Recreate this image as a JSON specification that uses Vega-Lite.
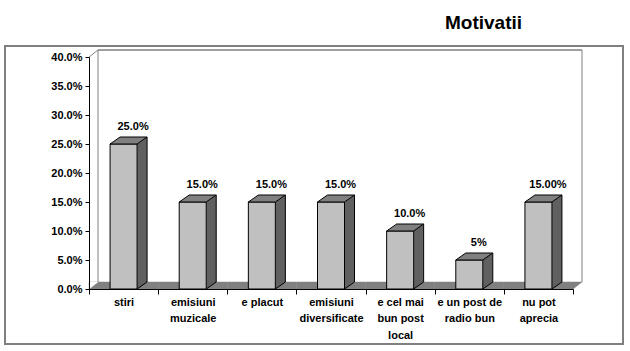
{
  "$schema": "https://vega.github.io/schema/vega-lite/v6.json",
  "width": 618,
  "height": 298,
  "autosize": "none",
  "padding": {"left": 5, "top": 46, "right": 7, "bottom": 7},
  "background": "white",
  "config": {"view": {"stroke": "#808080", "strokeWidth": 1}, "font": "Liberation Sans"},
  "title": {"text": "Motivatii", "fontSize": 19, "fontWeight": "bold", "font": "Liberation Sans", "color": "black", "anchor": "middle", "dx": 169.5, "offset": -3, "baseline": "alphabetic", "frame": "group"},
  "datasets": {
    "main": [
      {"cat": "stiri", "v": 0.25, "label": "25.0%"},
      {"cat": "emisiuni muzicale", "v": 0.15, "label": "15.0%"},
      {"cat": "e placut", "v": 0.15, "label": "15.0%"},
      {"cat": "emisiuni diversificate", "v": 0.15, "label": "15.0%"},
      {"cat": "e cel mai bun post local", "v": 0.10, "label": "10.0%"},
      {"cat": "e un post de radio bun", "v": 0.05, "label": "5%"},
      {"cat": "nu pot aprecia", "v": 0.15, "label": "15.00%"}
    ]
  },
  "data": {"name": "main"},
  "encoding": {
    "x": {
      "field": "cat", "type": "nominal",
      "scale": {"type": "band", "domain": ["stiri", "emisiuni muzicale", "e placut", "emisiuni diversificate", "e cel mai bun post local", "e un post de radio bun", "nu pot aprecia"], "range": [84, 568], "paddingInner": 0, "paddingOuter": 0},
      "axis": {
        "title": null, "offset": -55, "zindex": 1, "tickBand": "extent", "tickSize": 5, "labelAngle": 0, "labelOverlap": false, "labelLimit": 0,
        "domainColor": "black", "tickColor": "black", "labelColor": "black", "labelFont": "Liberation Sans", "labelFontSize": 11, "labelFontWeight": "bold",
        "labelPadding": 2, "labelLineHeight": 16.5, "labelBaseline": "top",
        "labelExpr": "datum.value == 'emisiuni muzicale' ? ['emisiuni','muzicale'] : datum.value == 'emisiuni diversificate' ? ['emisiuni','diversificate'] : datum.value == 'e cel mai bun post local' ? ['e cel mai','bun post','local'] : datum.value == 'e un post de radio bun' ? ['e un post de','radio bun'] : datum.value == 'nu pot aprecia' ? ['nu pot','aprecia'] : datum.label"
      }
    },
    "y": {
      "field": "v", "type": "quantitative",
      "scale": {"domain": [0, 0.4], "range": [243, 11], "nice": false, "zero": true},
      "axis": {
        "title": null, "offset": -84, "zindex": 1, "grid": false, "values": [0, 0.05, 0.1, 0.15, 0.2, 0.25, 0.3, 0.35, 0.4], "format": ".1%",
        "tickSize": 4, "domainColor": "black", "tickColor": "black", "labelColor": "black", "labelFont": "Liberation Sans", "labelFontSize": 11, "labelFontWeight": "bold", "labelPadding": 3
      }
    }
  },
  "layer": [
    {
      "transform": [{"filter": "datum.cat == 'stiri'"}],
      "mark": {"type": "rect", "fill": "white", "fillOpacity": 0, "stroke": "#808080", "strokeWidth": 2},
      "encoding": {"x": {"value": 0}, "x2": {"value": "width"}, "y": {"value": 0}, "y2": {"value": "height"}}
    },
    {
      "mark": {"type": "bar", "fill": "#808080", "stroke": "#808080", "strokeWidth": 0.5, "yOffset": -7, "y2Offset": 0, "width": {"band": 1}},
      "encoding": {"y": {"datum": 0}, "y2": {"datum": 0}}
    },
    {
      "transform": [{"filter": "datum.cat == 'nu pot aprecia'"}],
      "mark": {"type": "point", "shape": "M0,0 L9,-7 L0,-7 Z", "size": 4, "filled": true, "fill": "#808080", "stroke": "#808080", "strokeWidth": 0.5, "opacity": 1},
      "encoding": {"x": {"field": "cat", "type": "nominal", "bandPosition": 1}, "y": {"datum": 0}}
    },
    {
      "transform": [{"filter": "datum.cat == 'stiri'"}],
      "mark": {"type": "point", "shape": "M0,0 L0,-7 L9,-7 Z", "size": 4, "filled": true, "fill": "white", "stroke": "white", "strokeWidth": 0.5, "opacity": 1},
      "encoding": {"x": {"field": "cat", "type": "nominal", "bandPosition": 0}, "y": {"datum": 0}}
    },
    {
      "transform": [{"filter": "datum.cat == 'stiri'"}],
      "mark": {"type": "rule", "stroke": "#808080", "strokeWidth": 1, "xOffset": 9, "yOffset": -7, "y2Offset": -7},
      "encoding": {"x": {"field": "cat", "type": "nominal", "bandPosition": 0}, "y": {"datum": 0}, "y2": {"datum": 0.4}}
    },
    {
      "transform": [{"filter": "datum.cat == 'nu pot aprecia'"}],
      "mark": {"type": "rule", "stroke": "#808080", "strokeWidth": 1, "xOffset": 9, "yOffset": -7, "y2Offset": -7},
      "encoding": {"x": {"field": "cat", "type": "nominal", "bandPosition": 1}, "y": {"datum": 0}, "y2": {"datum": 0.4}}
    },
    {
      "mark": {"type": "bar", "fillOpacity": 0, "stroke": "#808080", "strokeWidth": 1, "width": {"band": 1}, "xOffset": 9, "x2Offset": 9, "yOffset": -7, "y2Offset": -7},
      "encoding": {"y": {"datum": 0.4}, "y2": {"datum": 0.4}}
    },
    {
      "transform": [{"filter": "datum.cat == 'stiri'"}],
      "mark": {"type": "point", "shape": "M0,0 L9,-7", "size": 4, "filled": false, "stroke": "#808080", "strokeWidth": 1, "opacity": 1},
      "encoding": {"x": {"field": "cat", "type": "nominal", "bandPosition": 0}, "y": {"datum": 0.4}}
    },
    {
      "mark": {"type": "bar", "fill": "#606060", "width": 10, "xOffset": 18.5, "yOffset": -7, "y2Offset": -7}
    },
    {
      "mark": {"type": "point", "shape": "M13.5,0 L13.5,-7 L23.5,-7 Z", "size": 4, "filled": true, "fill": "#606060", "strokeWidth": 0, "opacity": 1},
      "encoding": {"y": {"datum": 0}}
    },
    {
      "mark": {"type": "point", "shape": "M13.5,0 L23.5,-7", "size": 4, "filled": false, "stroke": "black", "strokeWidth": 1, "opacity": 1},
      "encoding": {"y": {"datum": 0}}
    },
    {
      "mark": {"type": "rule", "stroke": "black", "strokeWidth": 1, "xOffset": 23.5, "yOffset": -7, "y2Offset": -7},
      "encoding": {"y2": {"datum": 0}}
    },
    {
      "mark": {"type": "bar", "fill": "#C0C0C0", "stroke": "black", "strokeWidth": 1, "width": 27}
    },
    {
      "mark": {"type": "point", "shape": "M-13.5,0 L13.5,0 L23.5,-7 L-3.5,-7 Z", "size": 4, "filled": true, "fill": "#808080", "stroke": "black", "strokeWidth": 1, "opacity": 1}
    },
    {
      "mark": {"type": "text", "font": "Liberation Sans", "fontSize": 11, "fontWeight": "bold", "color": "black", "dx": 9.5, "dy": -14, "baseline": "alphabetic", "align": "center"},
      "encoding": {"text": {"field": "label"}}
    }
  ]
}
